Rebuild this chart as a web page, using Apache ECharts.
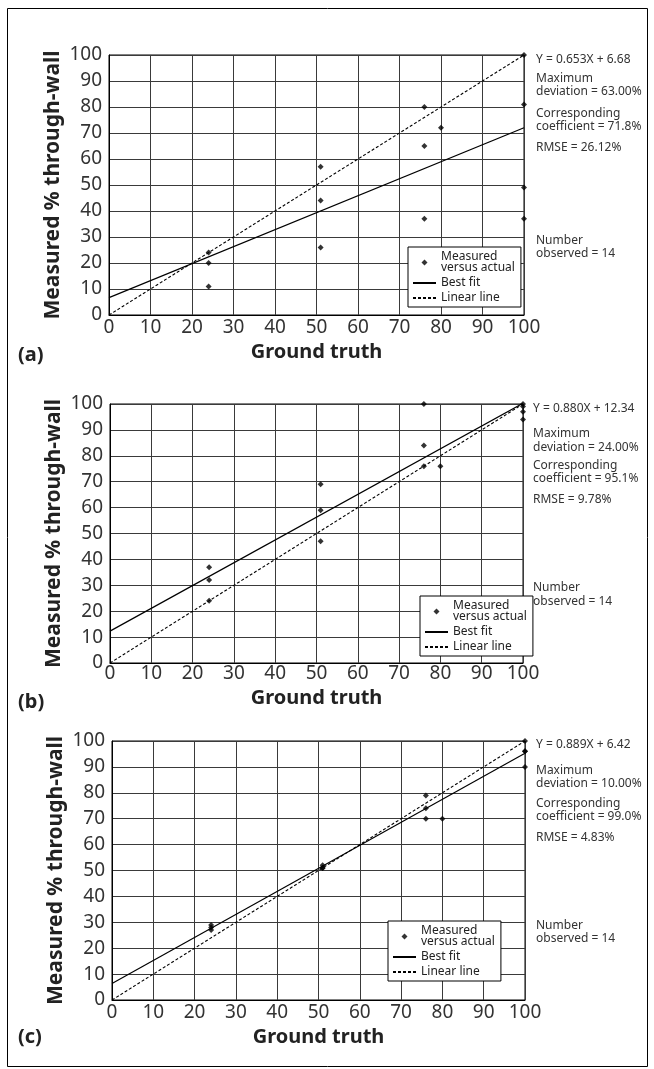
<!DOCTYPE html>
<html>
<head>
<meta charset="utf-8">
<script src="https://cdn.jsdelivr.net/npm/echarts@6/dist/echarts.min.js"></script>
<style>
  html, body { margin: 0; padding: 0; background: #fff; }
  #chart { width: 654px; height: 1069px; }
</style>
</head>
<body>
<div id="chart"></div>
<script>
// ground truth (x) is the same for the three panels
const groundTruth = [24, 24, 24, 51, 51, 51, 76, 76, 76, 80, 100, 100, 100, 100]
// measured % through-wall
const measuredA = [24, 20, 11, 57, 44, 26, 80, 65, 37, 72, 100, 81, 49, 37]
const measuredB = [37, 32, 24, 69, 59, 47, 100, 84, 76, 76, 100, 99, 97, 94]
const measuredC = [29, 28, 27, 52, 51, 51, 79, 74, 70, 70, 100, 96, 96, 90]
// best fit line end points (x = 0 and x = 100)
const bestFitA = [[0, 6.7], [100, 72.0]]
const bestFitB = [[0, 12.3], [100, 100.3]]
const bestFitC = [[0, 6.4], [100, 95.3]]
const linearLine = [[0, 0], [100, 100]]

const notesA = ['Y = 0.653X + 6.68', 'Maximum', 'deviation = 63.00%', 'Corresponding', 'coefficient = 71.8%', 'RMSE = 26.12%', 'Number', 'observed = 14']
const notesB = ['Y = 0.880X + 12.34', 'Maximum', 'deviation = 24.00%', 'Corresponding', 'coefficient = 95.1%', 'RMSE = 9.78%', 'Number', 'observed = 14']
const notesC = ['Y = 0.889X + 6.42', 'Maximum', 'deviation = 10.00%', 'Corresponding', 'coefficient = 99.0%', 'RMSE = 4.83%', 'Number', 'observed = 14']

const panelLabels = ['(a)', '(b)', '(c)']
const legendNames = ['Measured versus actual', 'Best fit', 'Linear line']

// layout of each panel (pixels)
const panels = [
  { measured: measuredA, fit: bestFitA, notes: notesA,
    grid: { left: 109, top: 55, width: 415, height: 260 },
    labelMargin: 3, nameGap: 27, noteX: 536, noteY: [60, 79, 92, 114, 127, 148, 241, 254],
    letterY: 355, legend: { left: 408, top: 247 } },
  { measured: measuredB, fit: bestFitB, notes: notesB,
    grid: { left: 110, top: 404, width: 413, height: 259 },
    labelMargin: 1, nameGap: 25, noteX: 533, noteY: [409, 434, 448, 466, 479, 500, 588, 602],
    letterY: 702, legend: { left: 420, top: 596 } },
  { measured: measuredC, fit: bestFitC, notes: notesC,
    grid: { left: 112, top: 741, width: 413, height: 259 },
    labelMargin: 3, nameGap: 27, noteX: 536, noteY: [745, 771, 784, 804, 817, 838, 926, 939],
    letterY: 1037, legend: { left: 388, top: 921 } }
]

const chart = echarts.init(document.getElementById('chart'))

const grids = [], xAxes = [], yAxes = [], series = [], legends = [], graphics = []

// outer frame
graphics.push({
  type: 'rect', shape: { x: 7.5, y: 8.5, width: 640, height: 1058 },
  style: { fill: 'none', stroke: '#000', lineWidth: 1 }, silent: true
})

panels.forEach((p, i) => {
  grids.push(Object.assign({ show: true, borderColor: '#000', borderWidth: 1, backgroundColor: '#fff' }, p.grid))

  const axisCommon = {
    type: 'value', min: 0, max: 100, interval: 10, gridIndex: i,
    axisLine: { lineStyle: { color: '#000', width: 1 } },
    axisTick: { show: false },
    splitLine: { show: true, lineStyle: { color: '#3a3a3a', width: 1 } },
    nameLocation: 'middle', nameMoveOverlap: false,
    nameTextStyle: { fontFamily: 'Noto Sans', fontWeight: 'bold', fontSize: 20, color: '#222' }
  }
  xAxes.push(Object.assign({}, axisCommon, {
    name: 'Ground truth', nameGap: p.nameGap,
    axisLabel: { margin: p.labelMargin, fontSize: 19, color: '#333', fontFamily: 'Noto Sans' }
  }))
  yAxes.push(Object.assign({}, axisCommon, {
    name: 'Measured % through-wall', nameGap: 45,
    nameTextStyle: Object.assign({}, axisCommon.nameTextStyle, { fontSize: 21 }),
    axisLabel: { margin: 7, fontSize: 19, color: '#333', fontFamily: 'Noto Sans' }
  }))

  series.push({
    name: legendNames[0], type: 'scatter', xAxisIndex: i, yAxisIndex: i,
    symbol: 'diamond', symbolSize: 6, itemStyle: { color: '#000' },
    data: groundTruth.map((x, k) => [x, p.measured[k]]), z: 5
  })
  series.push({
    name: legendNames[1], type: 'line', xAxisIndex: i, yAxisIndex: i,
    symbol: 'none', lineStyle: { color: '#000', width: 1.2 }, itemStyle: { color: '#000' },
    data: p.fit, z: 4
  })
  series.push({
    name: legendNames[2], type: 'line', xAxisIndex: i, yAxisIndex: i,
    symbol: 'none', lineStyle: { color: '#000', width: 1.1, type: [3, 2] }, itemStyle: { color: '#000' },
    data: linearLine, z: 4
  })

  legends.push({
    left: p.legend.left, top: p.legend.top, orient: 'vertical',
    backgroundColor: '#fff', borderColor: '#000', borderWidth: 1, borderRadius: 0,
    padding: [4, 6, 3, 4], itemGap: 3, itemWidth: 23, itemHeight: 6,
    symbolKeepAspect: true, selectedMode: false, z: 10,
    textStyle: { fontFamily: 'Noto Sans', fontSize: 12, lineHeight: 11, color: '#222' },
    formatter: name => name === legendNames[0] ? 'Measured\nversus actual' : name,
    data: [
      { name: legendNames[0], icon: 'path://M0,-1L1,0L0,1L-1,0Z' },
      { name: legendNames[1], itemStyle: { opacity: 0 } },
      { name: legendNames[2], itemStyle: { opacity: 0 } }
    ]
  })

  // fit statistics on the right of each panel
  p.notes.forEach((t, k) => {
    graphics.push({
      type: 'text', x: p.noteX, y: p.noteY[k], silent: true,
      style: { text: t, fontFamily: 'Noto Sans', fontSize: 12, fill: '#333', verticalAlign: 'middle' }
    })
  })
  graphics.push({
    type: 'text', x: 18, y: p.letterY, silent: true,
    style: { text: panelLabels[i], fontFamily: 'Noto Sans', fontWeight: 'bold', fontSize: 20, fill: '#222', verticalAlign: 'middle' }
  })
})

chart.setOption({
  animation: false,
  textStyle: { fontFamily: 'Noto Sans' },
  grid: grids,
  xAxis: xAxes,
  yAxis: yAxes,
  legend: legends,
  series: series,
  graphic: graphics
})
</script>
</body>
</html>
